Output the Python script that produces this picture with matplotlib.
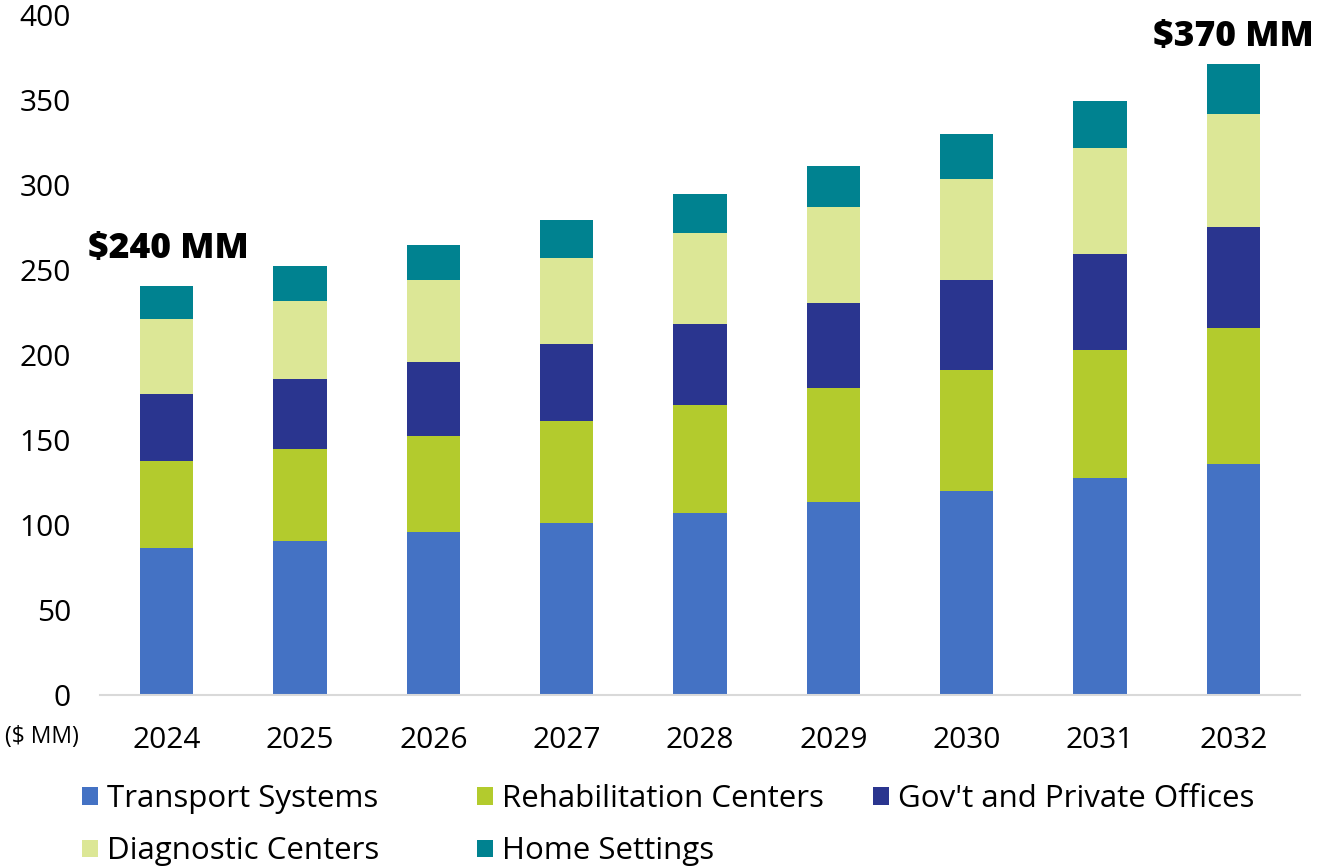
import numpy as np
import matplotlib.pyplot as plt

years = ['2024', '2025', '2026', '2027', '2028', '2029', '2030', '2031', '2032']
transport = [86.5, 90.5, 96, 101, 107, 113.5, 120, 127.5, 136]
rehab = [51, 54, 56.5, 60, 63.5, 67, 71, 75.5, 80]
govt = [39.5, 41.5, 43.5, 45.5, 47.5, 50, 53, 56.5, 59.5]
diag = [44, 46, 48, 50.5, 53.5, 56.5, 59.5, 62.5, 66.5]
home = [19.5, 20.5, 21, 22.5, 23, 24, 26.5, 27.5, 29]

series = [
    ('Transport Systems', transport, '#4472C4'),
    ('Rehabilitation Centers', rehab, '#B3CB2D'),
    ("Gov't and Private Offices", govt, '#2A358F'),
    ('Diagnostic Centers', diag, '#DCE796'),
    ('Home Settings', home, '#008290'),
]

plt.rcParams['font.family'] = ['Open Sans', 'DejaVu Sans']

fig = plt.figure(figsize=(13.19, 8.67), dpi=100)
ax = fig.add_axes([100/1319, 172/867, 1200/1319, 680/867])

x = np.arange(len(years))
bottom = np.zeros(len(years))
handles = []
for name, vals, col in series:
    b = ax.bar(x, vals, 0.4, bottom=bottom, color=col, label=name)
    handles.append(b)
    bottom += np.array(vals)

ax.set_xlim(-0.5, len(years) - 0.5)
ax.set_ylim(0, 400)
ax.set_yticks(range(0, 401, 50))
ax.set_xticks(x)
ax.set_xticklabels(years)
ax.tick_params(axis='both', length=0, labelsize=21.5, colors='black')
ax.tick_params(axis='x', pad=22)
ax.tick_params(axis='y', pad=21)
for s in ['top', 'right', 'left']:
    ax.spines[s].set_visible(False)
ax.spines['bottom'].set_color('#D9D9D9')
ax.spines['bottom'].set_linewidth(1.5)

# total labels
ax.text(-0.59, 257, '$240 MM', fontsize=25.5, fontweight='heavy',
        ha='left', va='baseline')
ax.text(8.6, 382, '$370 MM', fontsize=25.5, fontweight='heavy',
        ha='right', va='baseline')

fig.text(5/1319, 1 - 737/867, '($ MM)', fontsize=16.5, ha='left', va='center')

# legend: three columns placed like the original
cols = [([0, 3], 82), ([1, 4], 477), ([2], 873)]
for idx, xpix in cols:
    leg = fig.legend([handles[i] for i in idx], [series[i][0] for i in idx],
                     loc='upper left', bbox_to_anchor=(xpix/1319, 1 - 784/867),
                     frameon=False, fontsize=22.5, handlelength=0.5,
                     handleheight=0.5, handletextpad=0.3, labelspacing=0.72,
                     borderpad=0, borderaxespad=0)

fig.savefig('out.png', dpi=100)
